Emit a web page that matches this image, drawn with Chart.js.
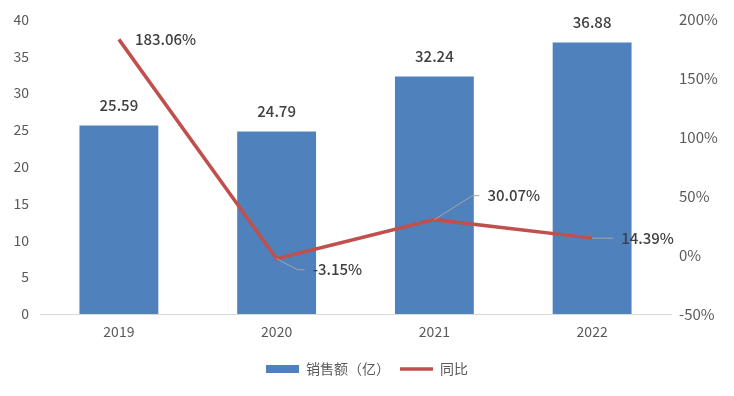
<!DOCTYPE html>
<html><head><meta charset="utf-8">
<script src="https://cdn.jsdelivr.net/npm/chart.js@4"></script>
<style>html,body{margin:0;padding:0;background:#fff}#wrap{width:734px;height:396px}</style>
</head><body><div id="wrap"><canvas id="c" width="734" height="396"></canvas></div>
<script>
const categories = ['2019', '2020', '2021', '2022'];
const salesValues = [25.59, 24.79, 32.24, 36.88];
const yoyValues = [183.06, -3.15, 30.07, 14.39];
const leftTicks = [0, 5, 10, 15, 20, 25, 30, 35, 40];
const rightTicks = [-50, 0, 50, 100, 150, 200];
const seriesNames = ['销售额（亿）', '同比'];

const FONT = '"Noto Sans CJK SC", "Noto Sans", sans-serif';
// label placement (offsets from the point, in px) for the line labels
const lineLabelPlacement = [
  {dx: 16, dy: 0, leader: false},
  {dx: 36, dy: 11, leader: true},
  {dx: 53, dy: -24, leader: true},
  {dx: 29, dy: 0, leader: true}
];

const labelPlugin = {
  id: 'valueLabels',
  afterDatasetsDraw(chart) {
    const ctx = chart.ctx;
    ctx.save();
    ctx.font = '500 15px ' + FONT;
    ctx.fillStyle = '#404040';
    const barMeta = chart.getDatasetMeta(0);
    barMeta.data.forEach((el, i) => {
      ctx.textAlign = 'center';
      ctx.textBaseline = 'middle';
      ctx.fillText(salesValues[i].toFixed(2), el.x, el.y - 20);
    });
    const lineMeta = chart.getDatasetMeta(1);
    lineMeta.data.forEach((el, i) => {
      const p = lineLabelPlacement[i];
      const tx = el.x + p.dx, ty = el.y + p.dy;
      if (p.leader) {
        ctx.strokeStyle = '#A6A6A6';
        ctx.lineWidth = 1;
        ctx.beginPath();
        ctx.moveTo(el.x, el.y);
        ctx.lineTo(tx - 15, ty);
        ctx.lineTo(tx - 8, ty);
        ctx.stroke();
      }
      ctx.textAlign = 'left';
      ctx.textBaseline = 'middle';
      ctx.fillText(yoyValues[i].toFixed(2) + '%', tx, ty);
    });
    ctx.restore();
  }
};

new Chart(document.getElementById('c'), {
  data: {
    labels: categories,
    datasets: [
      {
        type: 'bar', label: seriesNames[0], data: salesValues, yAxisID: 'y',
        backgroundColor: '#4F81BD', barPercentage: 0.5, categoryPercentage: 1.0, order: 2
      },
      {
        type: 'line', label: seriesNames[1], data: yoyValues, yAxisID: 'y1',
        borderColor: '#C0504D', backgroundColor: '#C0504D', borderWidth: 3.5,
        pointRadius: 0, tension: 0, order: 1
      }
    ]
  },
  options: {
    responsive: false, animation: false, devicePixelRatio: 1,
    layout: {padding: {top: 16, left: 0, right: 0, bottom: 10}},
    plugins: {
      legend: {
        position: 'bottom',
        labels: {
          font: {family: FONT, size: 14}, color: '#595959',
          usePointStyle: true, pointStyleWidth: 33, boxHeight: 8, padding: 10,
          generateLabels(chart) {
            return [
              {text: seriesNames[0], fillStyle: '#4F81BD', strokeStyle: '#4F81BD', lineWidth: 0, pointStyle: 'rect', datasetIndex: 0, fontColor: '#595959'},
              {text: seriesNames[1], fillStyle: '#C0504D', strokeStyle: '#C0504D', lineWidth: 3.5, pointStyle: 'line', datasetIndex: 1, fontColor: '#595959'}
            ];
          }
        }
      },
      tooltip: {enabled: false}
    },
    scales: {
      x: {
        grid: {display: false, drawTicks: false},
        border: {color: '#D9D9D9', width: 1},
        ticks: {font: {family: FONT, size: 14}, color: '#595959', padding: 9},
        afterFit(s) { s.height = 38; }
      },
      y: {
        position: 'left', min: 0, max: 40,
        afterBuildTicks(s) { s.ticks = leftTicks.map(v => ({value: v})); },
        afterFit(s) { s.width = 40; },
        grid: {display: false, drawTicks: false}, border: {display: false},
        ticks: {font: {family: FONT, size: 14}, color: '#595959', padding: 11}
      },
      y1: {
        position: 'right', min: -50, max: 200,
        afterBuildTicks(s) { s.ticks = rightTicks.map(v => ({value: v})); },
        afterFit(s) { s.width = 63; },
        grid: {display: false, drawTicks: false}, border: {display: false},
        ticks: {font: {family: FONT, size: 15}, color: '#595959', padding: 8,
          callback: v => v + '%'}
      }
    }
  },
  plugins: [labelPlugin]
});
</script>
</body></html>
